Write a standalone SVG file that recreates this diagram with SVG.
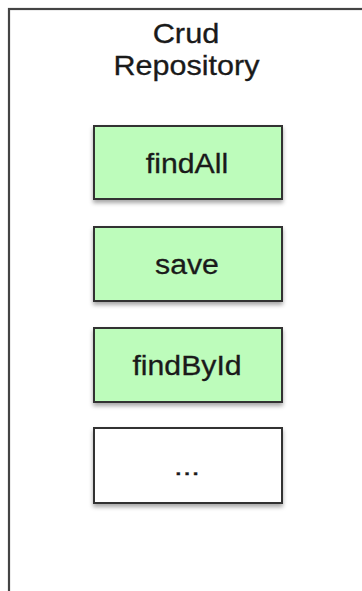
<svg xmlns="http://www.w3.org/2000/svg" width="362" height="591" viewBox="0 0 362 591">
<defs>
<filter id="sh" x="-10%" y="-10%" width="120%" height="140%">
<feDropShadow dx="0" dy="3" stdDeviation="2" flood-color="#000" flood-opacity="0.35"/>
</filter>
</defs>
<style>
.t{font-family:"Liberation Sans",Arial,sans-serif;fill:#1a1a1a;text-anchor:middle;stroke:#1a1a1a;stroke-width:0.3}
.m{stroke:#333;stroke-width:2}
.g{fill:#bdfcbb}
.w{fill:#fff}
</style>
<rect width="362" height="591" fill="#fff"/>
<g id="repository">
<rect x="9" y="9" width="380" height="600" fill="#fff" stroke="#444" stroke-width="2.2"/>
<text class="t" font-size="27.5" transform="translate(186,42.5) scale(1.12,1)">Crud</text>
<text class="t" font-size="27.5" transform="translate(186.5,75) scale(1.11,1)">Repository</text>
</g>
<g id="findAll">
<rect class="m g" x="94" y="126" width="188" height="73" filter="url(#sh)"/>
<text class="t" font-size="27" transform="translate(187,172.5) scale(1.12,1)">findAll</text>
</g>
<g id="save">
<rect class="m g" x="94" y="227" width="188" height="74" filter="url(#sh)"/>
<text class="t" font-size="27" transform="translate(187,273.5) scale(1.12,1)">save</text>
</g>
<g id="findById">
<rect class="m g" x="94" y="328" width="188" height="74" filter="url(#sh)"/>
<text class="t" font-size="27" transform="translate(187,374.5) scale(1.12,1)">findById</text>
</g>
<g id="more">
<rect class="m w" x="94" y="428" width="188" height="75" filter="url(#sh)"/>
<text class="t" font-size="24" transform="translate(187,475) scale(1.3,1)">...</text>
</g>
<g id="connectors"/>
</svg>
